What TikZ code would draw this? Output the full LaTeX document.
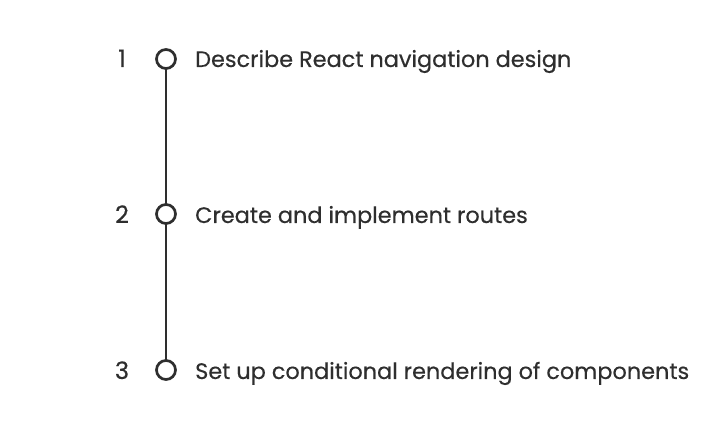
\documentclass[tikz,border=0pt]{standalone}
\usepackage{fontspec}
\setmainfont{Poppins}[FakeBold=0.35]
\definecolor{ink}{HTML}{2E2E2E}
\begin{document}
\begin{tikzpicture}[x=1pt,y=-1pt,
  dot/.style={circle,draw=ink,line width=2.7pt,fill=white,minimum size=19pt,inner sep=0pt},
  num/.style={anchor=base,text=ink,inner sep=0pt,font=\fontsize{24}{28}\selectfont},
  lab/.style={anchor=base west,text=ink,font=\fontsize{22.4}{26}\selectfont,inner sep=0pt}]
\useasboundingbox (0,0) rectangle (716,427);
\draw[ink,line width=2.7pt] (166,59) -- (166,370);
\node[dot] (c1) at (166,59) {};
\node[dot] (c2) at (166,214) {};
\node[dot] (c3) at (166,370) {};
\node[num] (n1) at (122,67) {1};
\node[num] (n2) at (122,223) {2};
\node[num] (n3) at (122,379) {3};
\node[lab] (t1) at (195,67) {Describe React navigation design};
\node[lab] (t2) at (195,223) {Create and implement routes};
\node[lab] (t3) at (195,379) {Set up conditional rendering of components};
\end{tikzpicture}
\end{document}
